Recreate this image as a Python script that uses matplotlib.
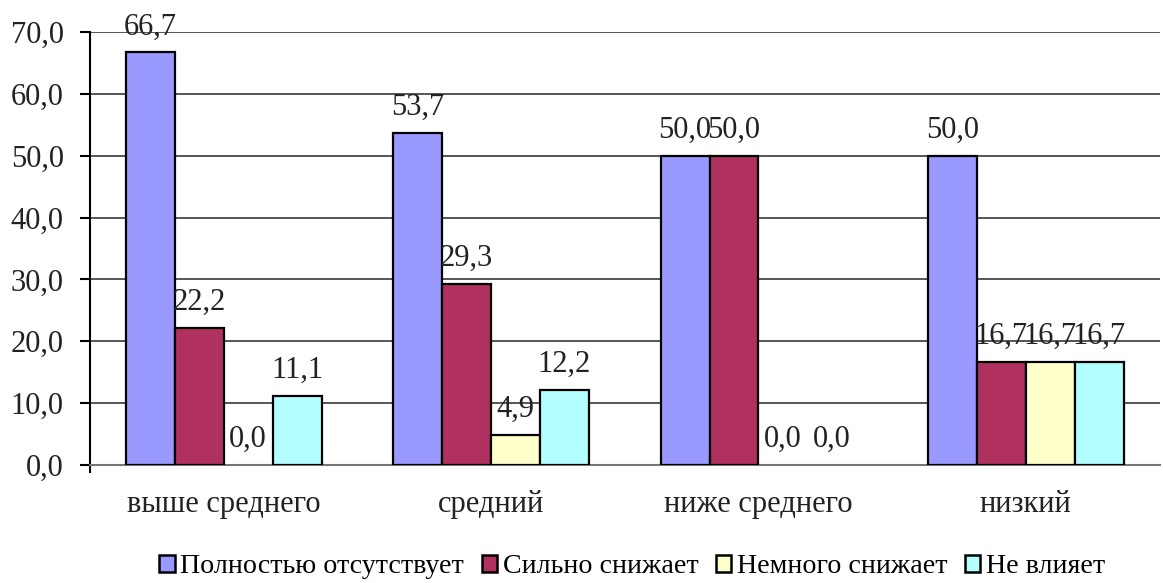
import matplotlib
matplotlib.use("Agg")
import matplotlib.pyplot as plt
import numpy as np
from matplotlib.patches import Patch

plt.rcParams['font.family'] = ['Liberation Serif', 'DejaVu Serif']

categories = ["выше среднего", "средний", "ниже среднего", "низкий"]
series_names = ["Полностью отсутствует", "Сильно снижает", "Немного снижает", "Не влияет"]
absent = [66.7, 53.7, 50.0, 50.0]
strongly = [22.2, 29.3, 50.0, 16.7]
slightly = [0.0, 4.9, 0.0, 16.7]
no_effect = [11.1, 12.2, 0.0, 16.7]
yticks = [0, 10, 20, 30, 40, 50, 60, 70]

colors = ["#9999FF", "#B03060", "#FFFFCC", "#B3FFFF"]
series = [absent, strongly, slightly, no_effect]

fig = plt.figure(figsize=(11.63, 5.83), dpi=100)
ax = fig.add_axes([0.0774, 0.2024, 0.9196, 0.7426])

x = np.arange(len(categories))
w = 0.183
for i, (vals, col) in enumerate(zip(series, colors)):
    pos = x + (i - 1.5) * w
    edges = ["black" if v > 0 else "none" for v in vals]
    ax.bar(pos, vals, width=w, color=col, edgecolor=edges, linewidth=1.6, zorder=3)
    for p, v in zip(pos, vals):
        ax.text(p, v + 1.8, f"{v:.1f}".replace(".", ","), ha="center", va="bottom",
                fontsize=22, color="#222222", zorder=4)

ax.set_xlim(-0.5, len(categories) - 0.5)
ax.set_ylim(0, 70)
ax.set_yticks(yticks)
ax.set_yticklabels([f"{t:.1f}".replace(".", ",") for t in yticks], fontsize=22, color="#222222")
ax.set_xticks(x)
ax.set_xticklabels(categories, fontsize=22, color="#222222")
ax.tick_params(axis="x", length=0, pad=18)
ax.tick_params(axis="y", length=7, width=1.5, color="black", pad=12, direction="out")
ax.yaxis.grid(True, color="#555555", linewidth=1.4, zorder=0)
for s in ["top", "right"]:
    ax.spines[s].set_visible(False)
ax.spines["left"].set_linewidth(1.5)
ax.spines["left"].set_bounds(-1.1, 70)
ax.spines["bottom"].set_color("#777777")
ax.spines["bottom"].set_linewidth(1.5)

handles = [Patch(facecolor=c, edgecolor="black", linewidth=1.8) for c in colors]
fig.legend(handles, series_names, loc="center", bbox_to_anchor=(0.5435, 0.028), ncol=4,
           frameon=False, prop={"family": "Liberation Serif", "size": 20.2},
           handlelength=0.55, handleheight=0.55,
           handletextpad=0.2, columnspacing=0.62, borderaxespad=0)

fig.savefig("out.png", dpi=100)
